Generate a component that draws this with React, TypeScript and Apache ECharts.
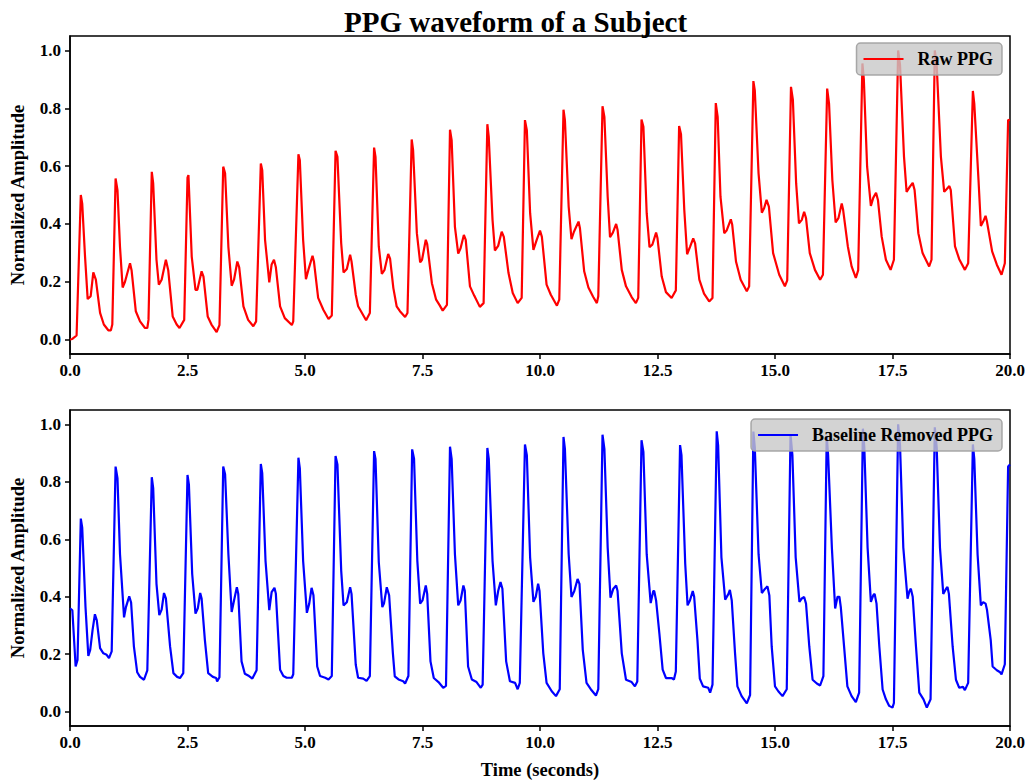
import React, { useEffect, useRef } from "react";
import * as echarts from "echarts";

const FONT = "'Liberation Serif', 'Times New Roman', Times, serif";

const titleText = "PPG waveform of a Subject";
const xAxisName = "Time (seconds)";
const yAxisName = "Normalized Amplitude";
const seriesNames = ["Raw PPG", "Baseline Removed PPG"];
const yTicks = [0, 0.2, 0.4, 0.6, 0.8, 1.0];

// [time (s), normalized amplitude]
const rawPoints: [number, number][] = [
  [0.0, 0.0], [0.05, 0.002], [0.14, 0.014], [0.23, 0.5], [0.26, 0.47], [0.32, 0.287], [0.376, 0.14], [0.44, 0.15], [0.496, 0.232], [0.55, 0.207], [0.64, 0.092], [0.72, 0.052], [0.815, 0.032], [0.87, 0.032],
  [0.9, 0.052], [0.97, 0.557], [1.01, 0.517], [1.064, 0.32], [1.12, 0.18], [1.17, 0.2], [1.277, 0.264], [1.31, 0.24], [1.4, 0.098], [1.49, 0.063], [1.596, 0.04], [1.645, 0.04],
  [1.67, 0.068], [1.74, 0.58], [1.77, 0.54], [1.84, 0.276], [1.89, 0.19], [1.95, 0.207], [2.04, 0.276], [2.09, 0.24], [2.185, 0.08], [2.27, 0.052], [2.33, 0.04],
  [2.43, 0.068], [2.5, 0.56], [2.52, 0.569], [2.59, 0.287], [2.67, 0.172], [2.71, 0.172], [2.8, 0.236], [2.84, 0.218], [2.93, 0.08], [3.01, 0.052], [3.12, 0.026], [3.18, 0.05],
  [3.26, 0.598], [3.3, 0.575], [3.37, 0.32], [3.44, 0.186], [3.49, 0.207], [3.56, 0.27], [3.6, 0.25], [3.69, 0.115], [3.79, 0.068], [3.9, 0.046], [3.96, 0.063],
  [4.06, 0.609], [4.09, 0.586], [4.15, 0.345], [4.24, 0.198], [4.29, 0.26], [4.34, 0.276], [4.38, 0.25], [4.47, 0.115], [4.57, 0.074], [4.72, 0.05], [4.75, 0.063],
  [4.86, 0.641], [4.89, 0.62], [4.96, 0.345], [5.02, 0.209], [5.07, 0.24], [5.16, 0.29], [5.19, 0.27], [5.28, 0.144], [5.39, 0.103], [5.5, 0.071], [5.57, 0.083],
  [5.65, 0.653], [5.69, 0.632], [5.77, 0.333], [5.82, 0.232], [5.89, 0.244], [5.96, 0.293], [5.99, 0.27], [6.08, 0.155], [6.13, 0.115], [6.3, 0.067], [6.38, 0.092],
  [6.47, 0.664], [6.5, 0.632], [6.57, 0.322], [6.635, 0.227], [6.69, 0.24], [6.77, 0.296], [6.81, 0.28], [6.88, 0.178], [6.95, 0.115], [7.02, 0.098], [7.13, 0.078], [7.18, 0.092],
  [7.27, 0.692], [7.3, 0.655], [7.38, 0.368], [7.45, 0.267], [7.49, 0.276], [7.57, 0.345], [7.6, 0.33], [7.7, 0.195], [7.79, 0.138], [7.86, 0.12], [7.93, 0.1], [8.02, 0.12],
  [8.085, 0.726], [8.12, 0.69], [8.19, 0.39], [8.26, 0.297], [8.31, 0.316], [8.38, 0.362], [8.42, 0.345], [8.51, 0.184], [8.6, 0.152], [8.72, 0.113], [8.8, 0.126],
  [8.88, 0.745], [8.91, 0.7], [8.99, 0.414], [9.04, 0.308], [9.11, 0.324], [9.185, 0.373], [9.23, 0.355], [9.33, 0.23], [9.42, 0.161], [9.525, 0.126], [9.61, 0.144],
  [9.68, 0.759], [9.72, 0.724], [9.79, 0.437], [9.86, 0.31], [9.93, 0.345], [10.0, 0.377], [10.04, 0.355], [10.14, 0.19], [10.23, 0.155], [10.36, 0.117], [10.41, 0.138],
  [10.5, 0.795], [10.53, 0.759], [10.61, 0.46], [10.67, 0.347], [10.72, 0.372], [10.82, 0.408], [10.85, 0.385], [10.94, 0.236], [11.03, 0.18], [11.13, 0.148], [11.21, 0.126], [11.24, 0.15],
  [11.33, 0.807], [11.37, 0.77], [11.44, 0.494], [11.49, 0.354], [11.55, 0.37], [11.62, 0.4], [11.65, 0.38], [11.74, 0.241], [11.83, 0.184], [11.95, 0.147], [12.04, 0.126], [12.09, 0.144],
  [12.16, 0.761], [12.2, 0.736], [12.27, 0.437], [12.33, 0.32], [12.39, 0.328], [12.47, 0.37], [12.5, 0.35], [12.59, 0.218], [12.68, 0.164], [12.8, 0.144], [12.89, 0.17],
  [12.96, 0.739], [13.0, 0.71], [13.07, 0.448], [13.13, 0.295], [13.19, 0.32], [13.26, 0.35], [13.3, 0.333], [13.39, 0.207], [13.49, 0.159], [13.6, 0.132], [13.67, 0.144],
  [13.74, 0.818], [13.78, 0.77], [13.84, 0.494], [13.92, 0.368], [13.97, 0.377], [14.06, 0.416], [14.09, 0.397], [14.17, 0.27], [14.27, 0.207], [14.4, 0.167], [14.45, 0.184],
  [14.54, 0.894], [14.57, 0.862], [14.65, 0.575], [14.72, 0.439], [14.77, 0.455], [14.82, 0.483], [14.87, 0.46], [14.96, 0.299], [15.09, 0.224], [15.21, 0.184], [15.26, 0.205],
  [15.34, 0.874], [15.38, 0.83], [15.45, 0.54], [15.51, 0.402], [15.57, 0.414], [15.62, 0.442], [15.66, 0.42], [15.74, 0.299], [15.85, 0.241], [15.96, 0.207], [16.02, 0.224],
  [16.11, 0.868], [16.15, 0.816], [16.22, 0.552], [16.29, 0.405], [16.35, 0.42], [16.42, 0.471], [16.45, 0.448], [16.55, 0.322], [16.63, 0.253], [16.72, 0.213], [16.77, 0.24],
  [16.86, 0.955], [16.89, 0.9], [16.96, 0.598], [17.04, 0.462], [17.09, 0.49], [17.15, 0.508], [17.19, 0.483], [17.27, 0.356], [17.36, 0.276], [17.46, 0.241], [17.53, 0.276],
  [17.62, 1.0], [17.66, 0.95], [17.745, 0.632], [17.8, 0.511], [17.87, 0.529], [17.93, 0.542], [17.97, 0.517], [18.05, 0.368], [18.14, 0.299], [18.28, 0.253], [18.33, 0.276],
  [18.4, 1.0], [18.44, 0.95], [18.53, 0.632], [18.6, 0.511], [18.65, 0.52], [18.71, 0.531], [18.74, 0.517], [18.83, 0.322], [18.92, 0.278], [19.04, 0.241], [19.11, 0.264],
  [19.21, 0.86], [19.24, 0.816], [19.33, 0.552], [19.38, 0.393], [19.43, 0.408], [19.48, 0.428], [19.51, 0.408], [19.62, 0.305], [19.72, 0.259], [19.82, 0.224], [19.89, 0.264], [19.96, 0.759], [20.0, 0.76],
];

const baselinePoints: [number, number][] = [
  [0.0, 0.36], [0.05, 0.353], [0.12, 0.157], [0.16, 0.18], [0.23, 0.672], [0.26, 0.64], [0.33, 0.364], [0.39, 0.194], [0.43, 0.215], [0.48, 0.284], [0.53, 0.339], [0.57, 0.318], [0.64, 0.221], [0.71, 0.203], [0.78, 0.198], [0.83, 0.186], [0.887, 0.21],
  [0.97, 0.853], [1.01, 0.813], [1.064, 0.548], [1.15, 0.328], [1.19, 0.364], [1.26, 0.401], [1.3, 0.38], [1.36, 0.226], [1.43, 0.137], [1.49, 0.121], [1.574, 0.111], [1.645, 0.144],
  [1.74, 0.816], [1.77, 0.778], [1.84, 0.445], [1.9, 0.336], [1.95, 0.355], [2.0, 0.413], [2.04, 0.394], [2.13, 0.226], [2.2, 0.134], [2.28, 0.121], [2.34, 0.117], [2.41, 0.134],
  [2.5, 0.824], [2.53, 0.79], [2.6, 0.479], [2.67, 0.341], [2.72, 0.36], [2.77, 0.413], [2.8, 0.394], [2.87, 0.249], [2.94, 0.134], [3.04, 0.121], [3.11, 0.117], [3.13, 0.105], [3.18, 0.12],
  [3.26, 0.853], [3.3, 0.826], [3.37, 0.548], [3.44, 0.347], [3.49, 0.387], [3.55, 0.433], [3.58, 0.41], [3.65, 0.175], [3.72, 0.132], [3.81, 0.124], [3.88, 0.115], [3.97, 0.144],
  [4.06, 0.862], [4.09, 0.83], [4.16, 0.525], [4.24, 0.353], [4.29, 0.416], [4.35, 0.431], [4.38, 0.41], [4.47, 0.146], [4.54, 0.124], [4.61, 0.118], [4.72, 0.118], [4.75, 0.13],
  [4.86, 0.884], [4.89, 0.847], [4.96, 0.525], [5.04, 0.344], [5.09, 0.376], [5.14, 0.431], [5.18, 0.405], [5.26, 0.157], [5.32, 0.124], [5.43, 0.118], [5.5, 0.112], [5.57, 0.124],
  [5.65, 0.89], [5.69, 0.86], [5.77, 0.491], [5.82, 0.37], [5.89, 0.381], [5.96, 0.433], [5.99, 0.41], [6.08, 0.163], [6.13, 0.118], [6.24, 0.115], [6.31, 0.107], [6.38, 0.124],
  [6.47, 0.907], [6.5, 0.88], [6.57, 0.52], [6.645, 0.364], [6.68, 0.376], [6.74, 0.433], [6.79, 0.405], [6.87, 0.203], [6.91, 0.123], [6.99, 0.112], [7.09, 0.106], [7.13, 0.098], [7.2, 0.124],
  [7.28, 0.913], [7.32, 0.88], [7.39, 0.525], [7.45, 0.376], [7.5, 0.387], [7.57, 0.439], [7.6, 0.41], [7.67, 0.175], [7.74, 0.117], [7.84, 0.103], [7.94, 0.083], [8.0, 0.09],
  [8.085, 0.922], [8.12, 0.88], [8.19, 0.548], [8.26, 0.37], [8.31, 0.387], [8.37, 0.439], [8.4, 0.421], [8.47, 0.157], [8.55, 0.112], [8.65, 0.103], [8.74, 0.083], [8.78, 0.094],
  [8.88, 0.918], [8.91, 0.88], [8.99, 0.525], [9.06, 0.37], [9.11, 0.42], [9.16, 0.451], [9.2, 0.428], [9.28, 0.175], [9.36, 0.106], [9.47, 0.1], [9.525, 0.078], [9.57, 0.1],
  [9.68, 0.93], [9.72, 0.893], [9.79, 0.536], [9.86, 0.382], [9.91, 0.4], [9.96, 0.445], [9.99, 0.42], [10.07, 0.203], [10.14, 0.1], [10.25, 0.071], [10.34, 0.054], [10.42, 0.078],
  [10.5, 0.956], [10.53, 0.915], [10.61, 0.548], [10.67, 0.399], [10.73, 0.42], [10.8, 0.462], [10.84, 0.445], [10.91, 0.215], [10.99, 0.1], [11.08, 0.078], [11.19, 0.056], [11.24, 0.078],
  [11.33, 0.964], [11.37, 0.915], [11.44, 0.571], [11.5, 0.397], [11.56, 0.428], [11.62, 0.439], [11.65, 0.42], [11.74, 0.203], [11.83, 0.111], [11.95, 0.103], [12.02, 0.088], [12.07, 0.105],
  [12.16, 0.945], [12.2, 0.904], [12.27, 0.548], [12.355, 0.378], [12.41, 0.42], [12.43, 0.42], [12.47, 0.387], [12.54, 0.272], [12.61, 0.146], [12.68, 0.117], [12.8, 0.117], [12.85, 0.112], [12.89, 0.14],
  [12.98, 0.928], [13.01, 0.893], [13.09, 0.514], [13.14, 0.37], [13.19, 0.387], [13.25, 0.42], [13.28, 0.4], [13.35, 0.249], [13.4, 0.115], [13.47, 0.088], [13.58, 0.083], [13.62, 0.066], [13.67, 0.094],
  [13.76, 0.976], [13.79, 0.927], [13.86, 0.537], [13.94, 0.39], [14.01, 0.41], [14.04, 0.424], [14.08, 0.387], [14.15, 0.203], [14.2, 0.088], [14.29, 0.054], [14.4, 0.029], [14.47, 0.058],
  [14.54, 0.975], [14.57, 0.92], [14.65, 0.548], [14.72, 0.413], [14.79, 0.428], [14.84, 0.436], [14.88, 0.404], [14.93, 0.226], [15.0, 0.088], [15.07, 0.071], [15.16, 0.054], [15.25, 0.078],
  [15.33, 0.965], [15.37, 0.893], [15.44, 0.537], [15.52, 0.382], [15.57, 0.394], [15.62, 0.399], [15.66, 0.376], [15.73, 0.226], [15.8, 0.111], [15.89, 0.098], [15.96, 0.091], [16.03, 0.124],
  [16.1, 0.96], [16.13, 0.893], [16.21, 0.571], [16.28, 0.359], [16.33, 0.4], [16.37, 0.4], [16.4, 0.364], [16.47, 0.226], [16.54, 0.088], [16.63, 0.054], [16.72, 0.033], [16.79, 0.066],
  [16.87, 0.985], [16.9, 0.92], [16.97, 0.571], [17.04, 0.382], [17.09, 0.405], [17.12, 0.41], [17.16, 0.376], [17.22, 0.226], [17.29, 0.077], [17.36, 0.043], [17.43, 0.02], [17.5, 0.014], [17.53, 0.03],
  [17.62, 1.0], [17.66, 0.927], [17.73, 0.571], [17.82, 0.393], [17.86, 0.42], [17.89, 0.428], [17.93, 0.4], [18.0, 0.226], [18.07, 0.066], [18.16, 0.043], [18.23, 0.014], [18.31, 0.043],
  [18.4, 0.99], [18.44, 0.92], [18.51, 0.571], [18.58, 0.41], [18.64, 0.428], [18.67, 0.434], [18.7, 0.41], [18.78, 0.226], [18.85, 0.111], [18.92, 0.083], [19.0, 0.086], [19.04, 0.075], [19.11, 0.1],
  [19.21, 0.93], [19.24, 0.88], [19.31, 0.548], [19.38, 0.37], [19.43, 0.381], [19.48, 0.376], [19.51, 0.355], [19.59, 0.249], [19.63, 0.157], [19.72, 0.144], [19.79, 0.137], [19.82, 0.13], [19.89, 0.165], [19.96, 0.853], [20.0, 0.86],
];

export default function App() {
  const ref = useRef<HTMLDivElement>(null);

  useEffect(() => {
    if (!ref.current) return;
    const chart = echarts.init(ref.current, null, { renderer: "svg" });

    const labelStyle = {
      fontFamily: FONT,
      fontWeight: "bold" as const,
      fontSize: 17,
      color: "#000",
    };

    const makeX = (gridIndex: number, withName: boolean) => ({
      type: "value",
      gridIndex,
      min: 0,
      max: 20,
      interval: 2.5,
      splitLine: { show: false },
      axisLine: { show: true, onZero: false, lineStyle: { color: "#000", width: 1.5 } },
      axisTick: { show: true, inside: false, length: 5, lineStyle: { color: "#000", width: 1.5 } },
      axisLabel: { ...labelStyle, margin: 8, formatter: (v: number) => v.toFixed(1) },
      name: withName ? xAxisName : "",
      nameLocation: "middle",
      nameGap: 34,
      nameTextStyle: { fontFamily: FONT, fontWeight: "bold", fontSize: 18.5, color: "#000" },
    });

    const makeY = (gridIndex: number) => ({
      type: "value",
      gridIndex,
      min: -0.05,
      max: 1.05,
      splitLine: { show: false },
      axisLine: { show: true, onZero: false, lineStyle: { color: "#000", width: 1.5 } },
      axisTick: { show: true, inside: false, length: 5, customValues: yTicks, lineStyle: { color: "#000", width: 1.5 } },
      axisLabel: { ...labelStyle, margin: 9, customValues: yTicks, formatter: (v: number) => v.toFixed(1) },
      name: yAxisName,
      nameLocation: "middle",
      nameRotate: 90,
      nameGap: 43,
      nameTextStyle: { fontFamily: FONT, fontWeight: "bold", fontSize: 18.5, color: "#000" },
    });

    const legendCommon = {
      right: 29,
      orient: "horizontal",
      icon: "rect",
      itemWidth: 40,
      itemHeight: 2.2,
      padding: [7, 9, 7, 7],
      backgroundColor: "rgba(200,200,200,0.8)",
      borderColor: "rgba(160,160,160,0.9)",
      borderWidth: 1.5,
      borderRadius: 4,
      textStyle: { fontFamily: FONT, fontWeight: "bold", fontSize: 18, color: "#000", padding: [0, 0, 0, 9] },
    };

    chart.setOption({
      animation: false,
      backgroundColor: "#fff",
      title: {
        text: titleText,
        left: "center",
        top: 2,
        textStyle: { fontFamily: FONT, fontWeight: "bold", fontSize: 29, color: "#000" },
      },
      grid: [
        { left: 70, right: 21, top: 36, height: 318, show: true, borderColor: "#000", borderWidth: 1.5, backgroundColor: "transparent" },
        { left: 70, right: 21, top: 410, height: 318, show: true, borderColor: "#000", borderWidth: 1.5, backgroundColor: "transparent" },
      ],
      xAxis: [makeX(0, false), makeX(1, true)],
      yAxis: [makeY(0), makeY(1)],
      legend: [
        { ...legendCommon, top: 43, data: [seriesNames[0]] },
        { ...legendCommon, top: 419, data: [seriesNames[1]] },
      ],
      series: [
        {
          name: seriesNames[0],
          type: "line",
          xAxisIndex: 0,
          yAxisIndex: 0,
          data: rawPoints,
          showSymbol: false,
          symbol: "none",
          color: "#ff0000",
          lineStyle: { color: "#ff0000", width: 2.2 },
          clip: true,
        },
        {
          name: seriesNames[1],
          type: "line",
          xAxisIndex: 1,
          yAxisIndex: 1,
          data: baselinePoints,
          showSymbol: false,
          symbol: "none",
          color: "#0000ff",
          lineStyle: { color: "#0000ff", width: 2.2 },
          clip: true,
        },
      ],
    });

    return () => chart.dispose();
  }, []);

  return (
    <div
      ref={ref}
      style={{ position: "fixed", left: 0, top: 0, width: 1031, height: 780, background: "#fff" }}
    />
  );
}
